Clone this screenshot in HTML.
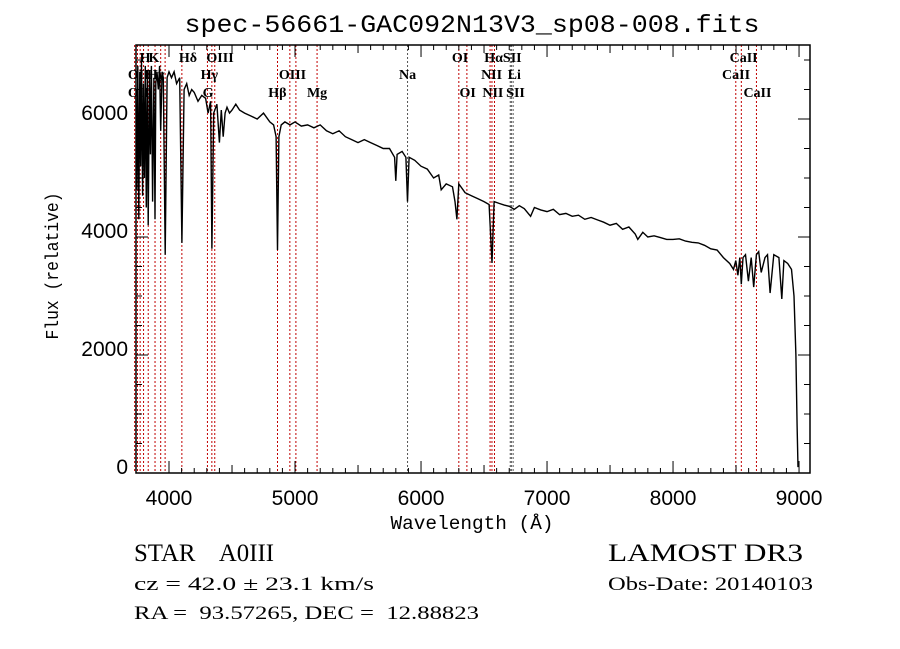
<!DOCTYPE html>
<html><head><meta charset="utf-8"><style>
html,body{margin:0;padding:0;background:#fff;}
svg{display:block;}
text{white-space:pre;}
</style></head><body>
<svg id="chart" width="900" height="649" viewBox="0 0 900 649" xmlns="http://www.w3.org/2000/svg" xml:space="preserve">
<rect width="900" height="649" fill="#fff"/>
<text x="472" y="32" text-anchor="middle" font-family="Liberation Mono, monospace" font-size="25" textLength="575" lengthAdjust="spacingAndGlyphs">spec-56661-GAC092N13V3_sp08-008.fits</text>
<g id="lines"></g>
<g id="labels"></g>
<polyline id="spec" fill="none" stroke="#000" stroke-width="1.4"/>
<rect x="136" y="45" width="674" height="428" fill="none" stroke="#000" stroke-width="1.5"/>
<g id="ticks"></g>
<text x="472" y="529" text-anchor="middle" font-family="Liberation Mono, monospace" font-size="19" textLength="163" lengthAdjust="spacingAndGlyphs">Wavelength (Å)</text>
<text transform="translate(58,266) rotate(-90)" text-anchor="middle" font-family="Liberation Mono, monospace" font-size="18" textLength="147" lengthAdjust="spacingAndGlyphs">Flux (relative)</text>
<text x="134" y="561" font-family="Liberation Serif, serif" font-size="25" textLength="140" lengthAdjust="spacingAndGlyphs">STAR    A0III</text>
<text x="608" y="561" font-family="Liberation Serif, serif" font-size="25" textLength="195" lengthAdjust="spacingAndGlyphs">LAMOST DR3</text>
<text x="134" y="590" font-family="Liberation Serif, serif" font-size="19" textLength="240" lengthAdjust="spacingAndGlyphs">cz = 42.0 ± 23.1 km/s</text>
<text x="608" y="590" font-family="Liberation Serif, serif" font-size="19" textLength="205" lengthAdjust="spacingAndGlyphs">Obs-Date: 20140103</text>
<text x="134" y="619" font-family="Liberation Serif, serif" font-size="19" textLength="345" lengthAdjust="spacingAndGlyphs">RA =  93.57265, DEC =  12.88823</text>
</svg>
<script>
const waves = [3738,3745,3752,3760,3768,3775,3782,3790,3797,3805,3812,3820,3828,3835,3845,3852,3860,3870,3880,3889,3895,3905,3915,3925,3934,3945,3955,3970,3985,4000,4020,4040,4060,4085,4102,4120,4140,4160,4180,4200,4230,4260,4290,4310,4330,4340,4355,4380,4400,4415,4430,4445,4460,4480,4500,4530,4560,4600,4650,4700,4750,4800,4830,4850,4861,4872,4890,4920,4960,5000,5050,5100,5150,5200,5250,5300,5350,5400,5450,5500,5550,5600,5650,5700,5750,5790,5800,5810,5850,5880,5893,5905,5950,6000,6050,6100,6140,6160,6200,6250,6270,6285,6300,6350,6400,6450,6500,6540,6563,6580,6620,6660,6700,6740,6780,6820,6870,6900,6950,7000,7050,7100,7150,7200,7250,7300,7350,7400,7450,7500,7550,7600,7650,7700,7720,7760,7800,7850,7900,7950,8000,8050,8100,8150,8200,8250,8300,8350,8400,8450,8480,8498,8515,8530,8542,8555,8575,8598,8620,8640,8662,8680,8700,8730,8750,8770,8800,8840,8863,8880,8910,8940,8960,8975,8985,8992,9000,9005];
const fluxes = [6400,4800,6900,4300,6800,5200,7000,4700,6600,5000,6900,4500,6700,4200,6800,5400,6900,4600,6700,4300,6600,6800,6500,6900,5800,6800,6700,3700,6700,6800,6700,6800,6600,6700,3900,6500,6600,6400,6500,6450,6300,6400,6350,6100,6300,3800,6100,6250,5600,6150,5700,6100,6200,6100,6150,6250,6150,6100,6050,6000,6100,5950,5900,5700,3780,5700,5900,5950,5900,5950,5880,5900,5850,5900,5800,5750,5800,5700,5650,5600,5650,5600,5550,5500,5500,5350,4950,5400,5450,5350,4600,5350,5300,5200,5150,5000,5050,4800,4900,4850,4600,4300,4900,4750,4700,4650,4600,4550,3560,4600,4570,4540,4520,4470,4530,4480,4350,4500,4460,4430,4470,4380,4400,4350,4370,4300,4330,4290,4250,4200,4230,4130,4170,4050,3960,4080,4000,4020,3990,3960,3960,3970,3930,3910,3900,3860,3800,3780,3650,3550,3450,3600,3350,3650,3200,3650,3700,3250,3650,3150,3700,3750,3400,3650,3700,3050,3700,3650,2950,3600,3550,3450,3000,2000,800,100];
const lineWaves = [3727,3750,3771,3798,3835,3889,3934,3969,4102,4305,4340,4363,4861,4959,5007,5175,5893,6300,6364,6548,6563,6583,6708,6717,6731,8498,8542,8662];
const lineRed = [1,1,1,1,1,1,1,1,1,1,1,1,1,1,1,1,0,1,1,1,1,1,0,0,0,1,1,1];
const labelText = ["OII","H","K","H\u03B4","OIII","OI","H\u03B1SII","CaII","Hy","H\u03B3","OIII","Na","NII","Li","CaII","OII","G","H\u03B2","Mg","OI","NII","SII","CaII"];
const labelWave = [3760,3810,3880,4150,4405,6310,6650,8560,3895,4320,4980,5893,6560,6740,8500,3760,4310,4860,5175,6370,6570,6750,8670];
const labelRow = [1,0,0,0,0,0,0,0,1,1,1,1,1,1,1,2,2,2,2,2,2,2,2];
const xTicks = [4000,5000,6000,7000,8000,9000];
const yTicks = [0,2000,4000,6000];

const X0=136,X1=810,Y0=473,Y1=45,WMIN=3738,WMAX=9087,FMIN=0,FMAX=7254;
function xs(w){return X0+(w-WMIN)/(WMAX-WMIN)*(X1-X0);}
function ys(f){return Y0-(f-FMIN)/(FMAX-FMIN)*(Y0-Y1);}
const NS="http://www.w3.org/2000/svg";
function mk(tag,attrs,parent){const e=document.createElementNS(NS,tag);for(const k in attrs)e.setAttribute(k,attrs[k]);parent.appendChild(e);return e;}

const pts=waves.map((w,i)=>xs(w).toFixed(1)+","+ys(Math.min(fluxes[i],FMAX)).toFixed(1)).join(" ");
document.getElementById('spec').setAttribute('points',pts);

const gl=document.getElementById('lines');
lineWaves.forEach((w,i)=>{
  const l=mk('line',{x1:xs(w),x2:xs(w),y1:Y1,y2:Y0,stroke:lineRed[i]?'#c00000':'#555','stroke-width':1,'stroke-dasharray':'2,2'},gl);
  
  
});
const glb=document.getElementById('labels');
const rowY=[62,79,97];
labelText.forEach((t,i)=>{
  const e=mk('text',{x:xs(labelWave[i]),y:rowY[labelRow[i]],'text-anchor':'middle','font-family':'Liberation Serif, serif','font-size':14,'font-weight':'bold'},glb);
  e.textContent=t;
  
  
});
const gt=document.getElementById('ticks');
for(let w=4000;w<=9000;w+=100){
  const major=w%1000===0, mid=w%500===0;
  const len=major?12:(mid?8:5);
  if(xs(w)>X1)continue;
  mk('line',{x1:xs(w),x2:xs(w),y1:Y0,y2:Y0-len,stroke:'#000','stroke-width':1},gt);
  mk('line',{x1:xs(w),x2:xs(w),y1:Y1,y2:Y1+len,stroke:'#000','stroke-width':1},gt);
}
for(let f=0;f<=7000;f+=500){
  const len=f%2000===0?12:6;
  mk('line',{x1:X0,x2:X0+len,y1:ys(f),y2:ys(f),stroke:'#000','stroke-width':1},gt);
  mk('line',{x1:X1,x2:X1-len,y1:ys(f),y2:ys(f),stroke:'#000','stroke-width':1},gt);
}
xTicks.forEach(w=>{
  const e=mk('text',{x:xs(w),y:505,'text-anchor':'middle','font-family':'Liberation Sans, sans-serif','font-size':21},gt);
  e.textContent=w;
  
  
});
yTicks.forEach(f=>{
  const e=mk('text',{x:128,y:ys(f)+1,'text-anchor':'end','font-family':'Liberation Sans, sans-serif','font-size':21},gt);
  e.textContent=f;
  
  
});
</script>
</body></html>
